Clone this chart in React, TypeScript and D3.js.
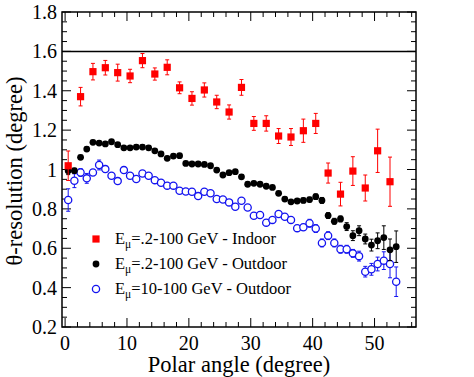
import React from "react";
import * as d3 from "d3";

const redAngle = [0.5, 2.5, 4.5, 6.5, 8.5, 10.5, 12.5, 14.5, 16.5, 18.5, 20.5, 22.5, 24.5, 26.5, 28.5, 30.5, 32.5, 34.5, 36.5, 38.5, 40.5, 42.5, 44.5, 46.5, 48.5, 50.5, 52.5];
const redRes = [1.019, 1.37, 1.497, 1.517, 1.492, 1.475, 1.553, 1.485, 1.519, 1.415, 1.361, 1.404, 1.343, 1.292, 1.417, 1.234, 1.234, 1.17, 1.165, 1.197, 1.234, 0.982, 0.875, 0.992, 0.906, 1.095, 0.938];
const redErr = [0.075, 0.047, 0.042, 0.037, 0.043, 0.034, 0.036, 0.031, 0.038, 0.03, 0.034, 0.036, 0.034, 0.036, 0.04, 0.035, 0.039, 0.038, 0.043, 0.059, 0.051, 0.051, 0.06, 0.073, 0.066, 0.11, 0.125];

const outAngle = [0.5, 1.5, 2.5, 3.5, 4.5, 5.5, 6.5, 7.5, 8.5, 9.5, 10.5, 11.5, 12.5, 13.5, 14.5, 15.5, 16.5, 17.5, 18.5, 19.5, 20.5, 21.5, 22.5, 23.5, 24.5, 25.5, 26.5, 27.5, 28.5, 29.5, 30.5, 31.5, 32.5, 33.5, 34.5, 35.5, 36.5, 37.5, 38.5, 39.5, 40.5, 41.5, 42.5, 43.5, 44.5, 45.5, 46.5, 47.5, 48.5, 49.5, 50.5, 51.5, 52.5, 53.5];
const blackRes = [0.994, 0.994, 1.062, 1.104, 1.138, 1.134, 1.13, 1.141, 1.126, 1.11, 1.11, 1.114, 1.114, 1.11, 1.095, 1.079, 1.057, 1.068, 1.07, 1.031, 1.028, 1.028, 1.026, 1.019, 0.997, 0.972, 0.984, 0.989, 0.963, 0.925, 0.93, 0.925, 0.915, 0.909, 0.879, 0.85, 0.836, 0.84, 0.843, 0.847, 0.862, 0.843, 0.766, 0.737, 0.749, 0.71, 0.664, 0.689, 0.647, 0.616, 0.638, 0.654, 0.592, 0.608];
const blackErr = [0.02, 0.012, 0.01, 0.01, 0.01, 0.01, 0.01, 0.01, 0.01, 0.01, 0.01, 0.01, 0.01, 0.01, 0.01, 0.01, 0.01, 0.01, 0.01, 0.01, 0.01, 0.01, 0.01, 0.01, 0.01, 0.01, 0.01, 0.01, 0.01, 0.01, 0.01, 0.01, 0.01, 0.01, 0.01, 0.01, 0.01, 0.01, 0.012, 0.012, 0.014, 0.015, 0.015, 0.015, 0.015, 0.02, 0.025, 0.025, 0.025, 0.03, 0.04, 0.06, 0.055, 0.08];
const blueRes = [0.845, 0.943, 0.985, 0.955, 0.985, 1.023, 1.002, 0.968, 0.941, 0.997, 0.968, 0.952, 0.98, 0.968, 0.946, 0.933, 0.918, 0.918, 0.892, 0.888, 0.887, 0.865, 0.887, 0.879, 0.85, 0.848, 0.833, 0.811, 0.841, 0.807, 0.765, 0.769, 0.73, 0.744, 0.774, 0.76, 0.744, 0.702, 0.707, 0.727, 0.7, 0.627, 0.664, 0.627, 0.595, 0.595, 0.574, 0.56, 0.481, 0.493, 0.52, 0.537, 0.52, 0.43];
const blueErr = [0.057, 0.035, 0.02, 0.025, 0.015, 0.025, 0.015, 0.012, 0.012, 0.015, 0.012, 0.012, 0.012, 0.012, 0.012, 0.012, 0.012, 0.012, 0.012, 0.012, 0.012, 0.012, 0.012, 0.012, 0.012, 0.012, 0.012, 0.012, 0.012, 0.012, 0.012, 0.012, 0.012, 0.012, 0.012, 0.012, 0.012, 0.015, 0.015, 0.02, 0.02, 0.02, 0.02, 0.02, 0.02, 0.02, 0.02, 0.025, 0.027, 0.03, 0.035, 0.045, 0.07, 0.075];

const xTicks = [0, 10, 20, 30, 40, 50];
const yTicks = [0.2, 0.4, 0.6, 0.8, 1, 1.2, 1.4, 1.6, 1.8];
const refLine = 1.6;
const legendItems = [
  { pre: "E", sub: "μ", post: "=.2-100 GeV - Indoor", kind: "red" },
  { pre: "E", sub: "μ", post: "=.2-100 GeV - Outdoor", kind: "black" },
  { pre: "E", sub: "μ", post: "=10-100 GeV - Outdoor", kind: "blue" },
];

const W = 474, H = 377;
const L = 62, R = 416, T = 12, B = 327;
const FONT = '"Liberation Serif", monospace';

export default function App() {
  const x = d3.scaleLinear().domain([-0.5, 56.7]).range([L, R]);
  const y = d3.scaleLinear().domain([0.2, 1.8]).range([B, T]);
  const xMinor = d3.range(0, 57, 2);
  const yMinor = d3.range(0, 33).map((i) => 0.2 + i * 0.05);
  const RED = "#ff0000", BLUE = "#1414f0";

  const errBar = (xv: number, yv: number, e: number, color: string, key: string) => {
    const cx = x(xv), y1 = y(yv + e), y2 = y(yv - e);
    return (
      <g key={key} stroke={color} strokeWidth={1}>
        <line x1={cx} x2={cx} y1={y1} y2={y2} />
        <line x1={cx - 2} x2={cx + 2} y1={y1} y2={y1} />
        <line x1={cx - 2} x2={cx + 2} y1={y2} y2={y2} />
      </g>
    );
  };

  const ts = { fontFamily: FONT };

  return (
    <svg width={W} height={H} style={{ position: "absolute", left: 0, top: 0, background: "#fff" }}>
      <rect width={W} height={H} fill="#fff" />
      <g stroke="#000" strokeWidth={1}>
        {xMinor.map((v) => {
          const len = v % 10 === 0 ? 9 : 5;
          return (
            <g key={"xt" + v}>
              <line x1={x(v)} x2={x(v)} y1={B} y2={B - len} />
              <line x1={x(v)} x2={x(v)} y1={T} y2={T + len} />
            </g>
          );
        })}
        {yMinor.map((v, i) => {
          const len = i % 4 === 0 ? 9 : 5;
          return (
            <g key={"yt" + i}>
              <line x1={L} x2={L + len} y1={y(v)} y2={y(v)} />
              <line x1={R} x2={R - len} y1={y(v)} y2={y(v)} />
            </g>
          );
        })}
      </g>
      <line x1={L} x2={R} y1={y(refLine)} y2={y(refLine)} stroke="#000" strokeWidth={1.5} />
      {outAngle.map((a, i) => errBar(a, blueRes[i], blueErr[i], BLUE, "be" + i))}
      {outAngle.map((a, i) => (
        <circle key={"bc" + i} cx={x(a)} cy={y(blueRes[i])} r={3.6} fill="#fff" stroke={BLUE} strokeWidth={1.3} />
      ))}
      {outAngle.map((a, i) => errBar(a, blackRes[i], blackErr[i], "#000", "ke" + i))}
      {outAngle.map((a, i) => (
        <circle key={"kc" + i} cx={x(a)} cy={y(blackRes[i])} r={3.4} fill="#000" />
      ))}
      {redAngle.map((a, i) => errBar(a, redRes[i], redErr[i], RED, "re" + i))}
      {redAngle.map((a, i) => (
        <rect key={"rs" + i} x={x(a) - 3.6} y={y(redRes[i]) - 3.6} width={7.2} height={7.2} fill={RED} />
      ))}
      <rect x={L} y={T} width={R - L} height={B - T} fill="none" stroke="#000" strokeWidth={1.5} />
      {xTicks.map((v) => (
        <text key={"xl" + v} style={ts} x={x(v)} y={349.5} fontSize={20} textAnchor="middle" fill="#000">{v}</text>
      ))}
      {yTicks.map((v) => (
        <text key={"yl" + v} style={ts} x={57} y={y(v) + 7} fontSize={20} textAnchor="end" fill="#000">{String(v)}</text>
      ))}
      <text style={ts} x={(L + R) / 2} y={372} fontSize={22.5} textAnchor="middle" fill="#000">Polar angle (degree)</text>
      <text style={ts} transform={`translate(22,171) rotate(-90)`} fontSize={22.5} textAnchor="middle" fill="#000">θ-resolution (degree)</text>
      {legendItems.map((it, i) => {
        const by = 244 + i * 25;
        const mx = 96, my = by - 5;
        let marker;
        if (it.kind === "red") marker = <rect x={mx - 3.6} y={my - 3.6} width={7.2} height={7.2} fill={RED} />;
        else if (it.kind === "black") marker = <circle cx={mx} cy={my} r={3.4} fill="#000" />;
        else marker = <circle cx={mx} cy={my} r={3.6} fill="#fff" stroke={BLUE} strokeWidth={1.3} />;
        return (
          <g key={"lg" + i}>
            {marker}
            <text style={ts} x={115} y={by} fontSize={16.5} fill="#000">
              {it.pre}
              <tspan fontSize={11.5} dy={4}>{it.sub}</tspan>
              <tspan dy={-4}>{it.post}</tspan>
            </text>
          </g>
        );
      })}
    </svg>
  );
}
